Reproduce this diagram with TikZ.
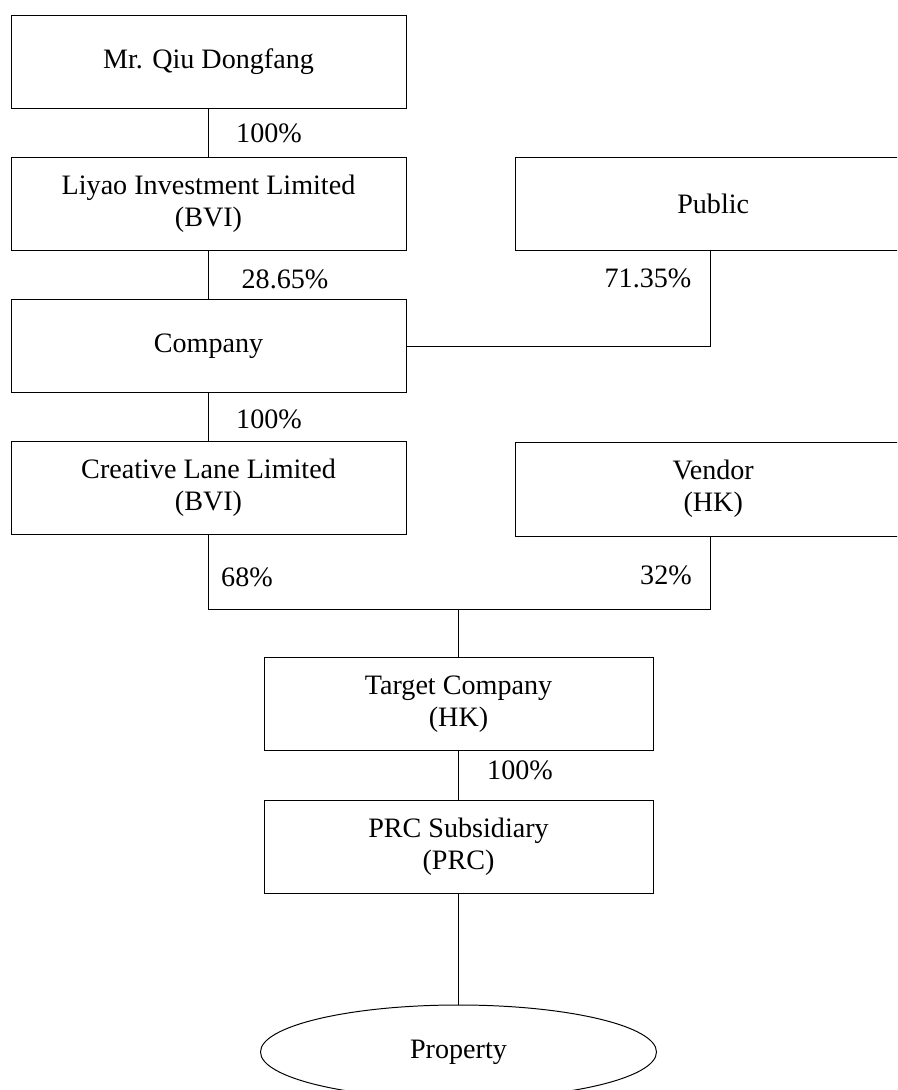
\documentclass[tikz,border=0pt]{standalone}
\usepackage{fontspec}
\setmainfont{Liberation Serif}
\usetikzlibrary{shapes.geometric}
\tikzset{
  entity/.style={draw, line width=0.7pt, minimum width=9.875cm, minimum height=2.325cm, align=center, inner sep=0pt},
  share/.style={inner sep=0pt},
  link/.style={line width=0.7pt}
}
\begin{document}
\begin{tikzpicture}[font=\fontsize{20}{23}\selectfont]
\useasboundingbox (0,0) rectangle (22.425,-27.25);
\clip (0,0) rectangle (22.425,-27.25);
\path node[entity] (qiu) at (5.2125,-1.55) {Mr. Qiu Dongfang}
node[entity] (liyao) at (5.2125,-5.1) {Liyao Investment Limited\\(BVI)}
node[entity, minimum width=10.25cm] (public) at (18.0,-5.1) {}
node (publictext) at (17.83,-5.1) {Public}
node[entity] (company) at (5.2125,-8.65) {Company}
node[entity] (creative) at (5.2125,-12.2) {Creative Lane Limited\\(BVI)}
node[entity, minimum width=10.25cm, minimum height=2.35cm] (vendor) at (18.0,-12.225) {}
node[align=center] (vendortext) at (17.83,-12.225) {Vendor\\(HK)}
node[entity, minimum width=9.725cm] (target) at (11.4625,-17.6) {Target Company\\(HK)}
node[entity, minimum width=9.725cm] (prc) at (11.4625,-21.1625) {PRC Subsidiary\\(PRC)}
node[draw, ellipse, line width=0.7pt, minimum width=9.9cm, minimum height=2.35cm, inner sep=0pt] (property) at (11.4625,-26.3) {Property}
;
% percentages
\path node[share] (p1) at (6.725,-3.325) {100\%}
node[share] (p2) at (7.125,-6.975) {28.65\%}
node[share] (p3) at (16.2,-6.95) {71.35\%}
node[share] (p4) at (6.725,-10.475) {100\%}
node[share] (p5) at (6.175,-14.425) {68\%}
node[share] (p6) at (16.65,-14.375) {32\%}
node[share] (p7) at (13.0,-19.25) {100\%}
;
\coordinate (pubbend) at (17.75,-8.65);
\coordinate (jleft) at (5.2125,-15.225);
\coordinate (jright) at (17.75,-15.225);
\coordinate (jmid) at (11.4625,-15.225);
\draw[link] (qiu) -- (liyao);
\draw[link] (liyao) -- (company);
\draw[link] (public.south -| pubbend) -- (pubbend) -- (company.east);
\draw[link] (company) -- (creative);
\draw[link] (creative) -- (jleft) -- (jright) -- (vendor.south -| jright);
\draw[link] (jmid) -- (target);
\draw[link] (target) -- (prc);
\draw[link] (prc) -- (property);
\end{tikzpicture}
\end{document}
